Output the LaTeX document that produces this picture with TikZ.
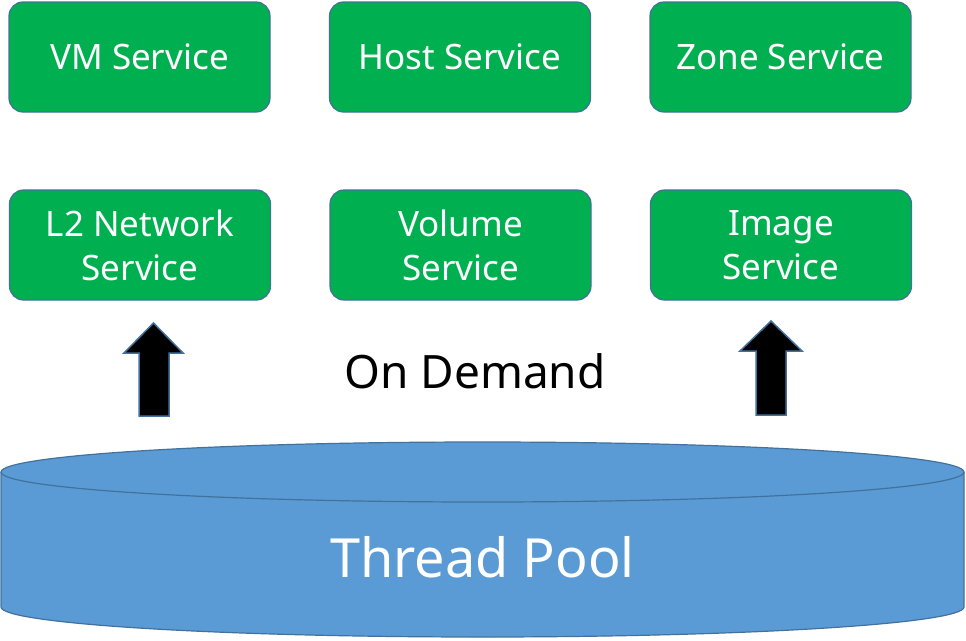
\documentclass[tikz,border=0pt]{standalone}
\usepackage{fontspec}
\setmainfont{Noto Sans}
\usetikzlibrary{shapes.geometric}
\definecolor{boxgreen}{HTML}{00B050}
\definecolor{edgeblue}{HTML}{41719C}
\definecolor{poolblue}{HTML}{5B9BD5}
\begin{document}
\begin{tikzpicture}[x=1pt,y=-1pt,
  svc/.style={draw=edgeblue, line width=1.2pt, fill=boxgreen, rounded corners=14pt,
    minimum width=261pt, minimum height=110pt, text=white, align=center,
    font=\fontsize{35}{44}\selectfont, inner sep=0pt},
  uparrow/.style={draw=edgeblue, line width=1.5pt, fill=black}]
\useasboundingbox (0,0) rectangle (966,640);
% services
\node[svc] (vm) at (139.5,57) {VM Service};
\node[svc] (host) at (460,57) {Host Service};
\node[svc] (zone) at (780.5,57) {Zone Service};
\node[svc] (l2) at (140,245) {L2 Network\\Service};
\node[svc] (vol) at (460.5,245) {Volume\\Service};
\node[svc] (img) at (781,245) {Image\\Service};
% thread pool cylinder
\fill[poolblue] (1,472) -- (1,607) arc[start angle=180,end angle=0,x radius=481.5,y radius=30] -- (964,472) arc[start angle=0,end angle=-180,x radius=481.5,y radius=30] -- cycle;
\draw[edgeblue, line width=1.2pt] (1,472) -- (1,607) arc[start angle=180,end angle=0,x radius=481.5,y radius=30] -- (964,472);
\draw[edgeblue, line width=1.2pt] (482.5,472) ellipse[x radius=481.5, y radius=30];
\node[text=white, font=\fontsize{54}{54}\selectfont] (pool) at (482.5,557) {Thread Pool};
% on demand
\node[font=\fontsize{46}{46}\selectfont] (demand) at (475,371) {On Demand};
% arrows
\draw[uparrow] (139,416) -- (139,353) -- (124,353) -- (153.5,323) -- (183,353) -- (169,353) -- (169,416) -- cycle;
\draw[uparrow] (756,415) -- (756,351) -- (740,351) -- (771,321) -- (802,351) -- (786,351) -- (786,415) -- cycle;
\end{tikzpicture}
\end{document}
